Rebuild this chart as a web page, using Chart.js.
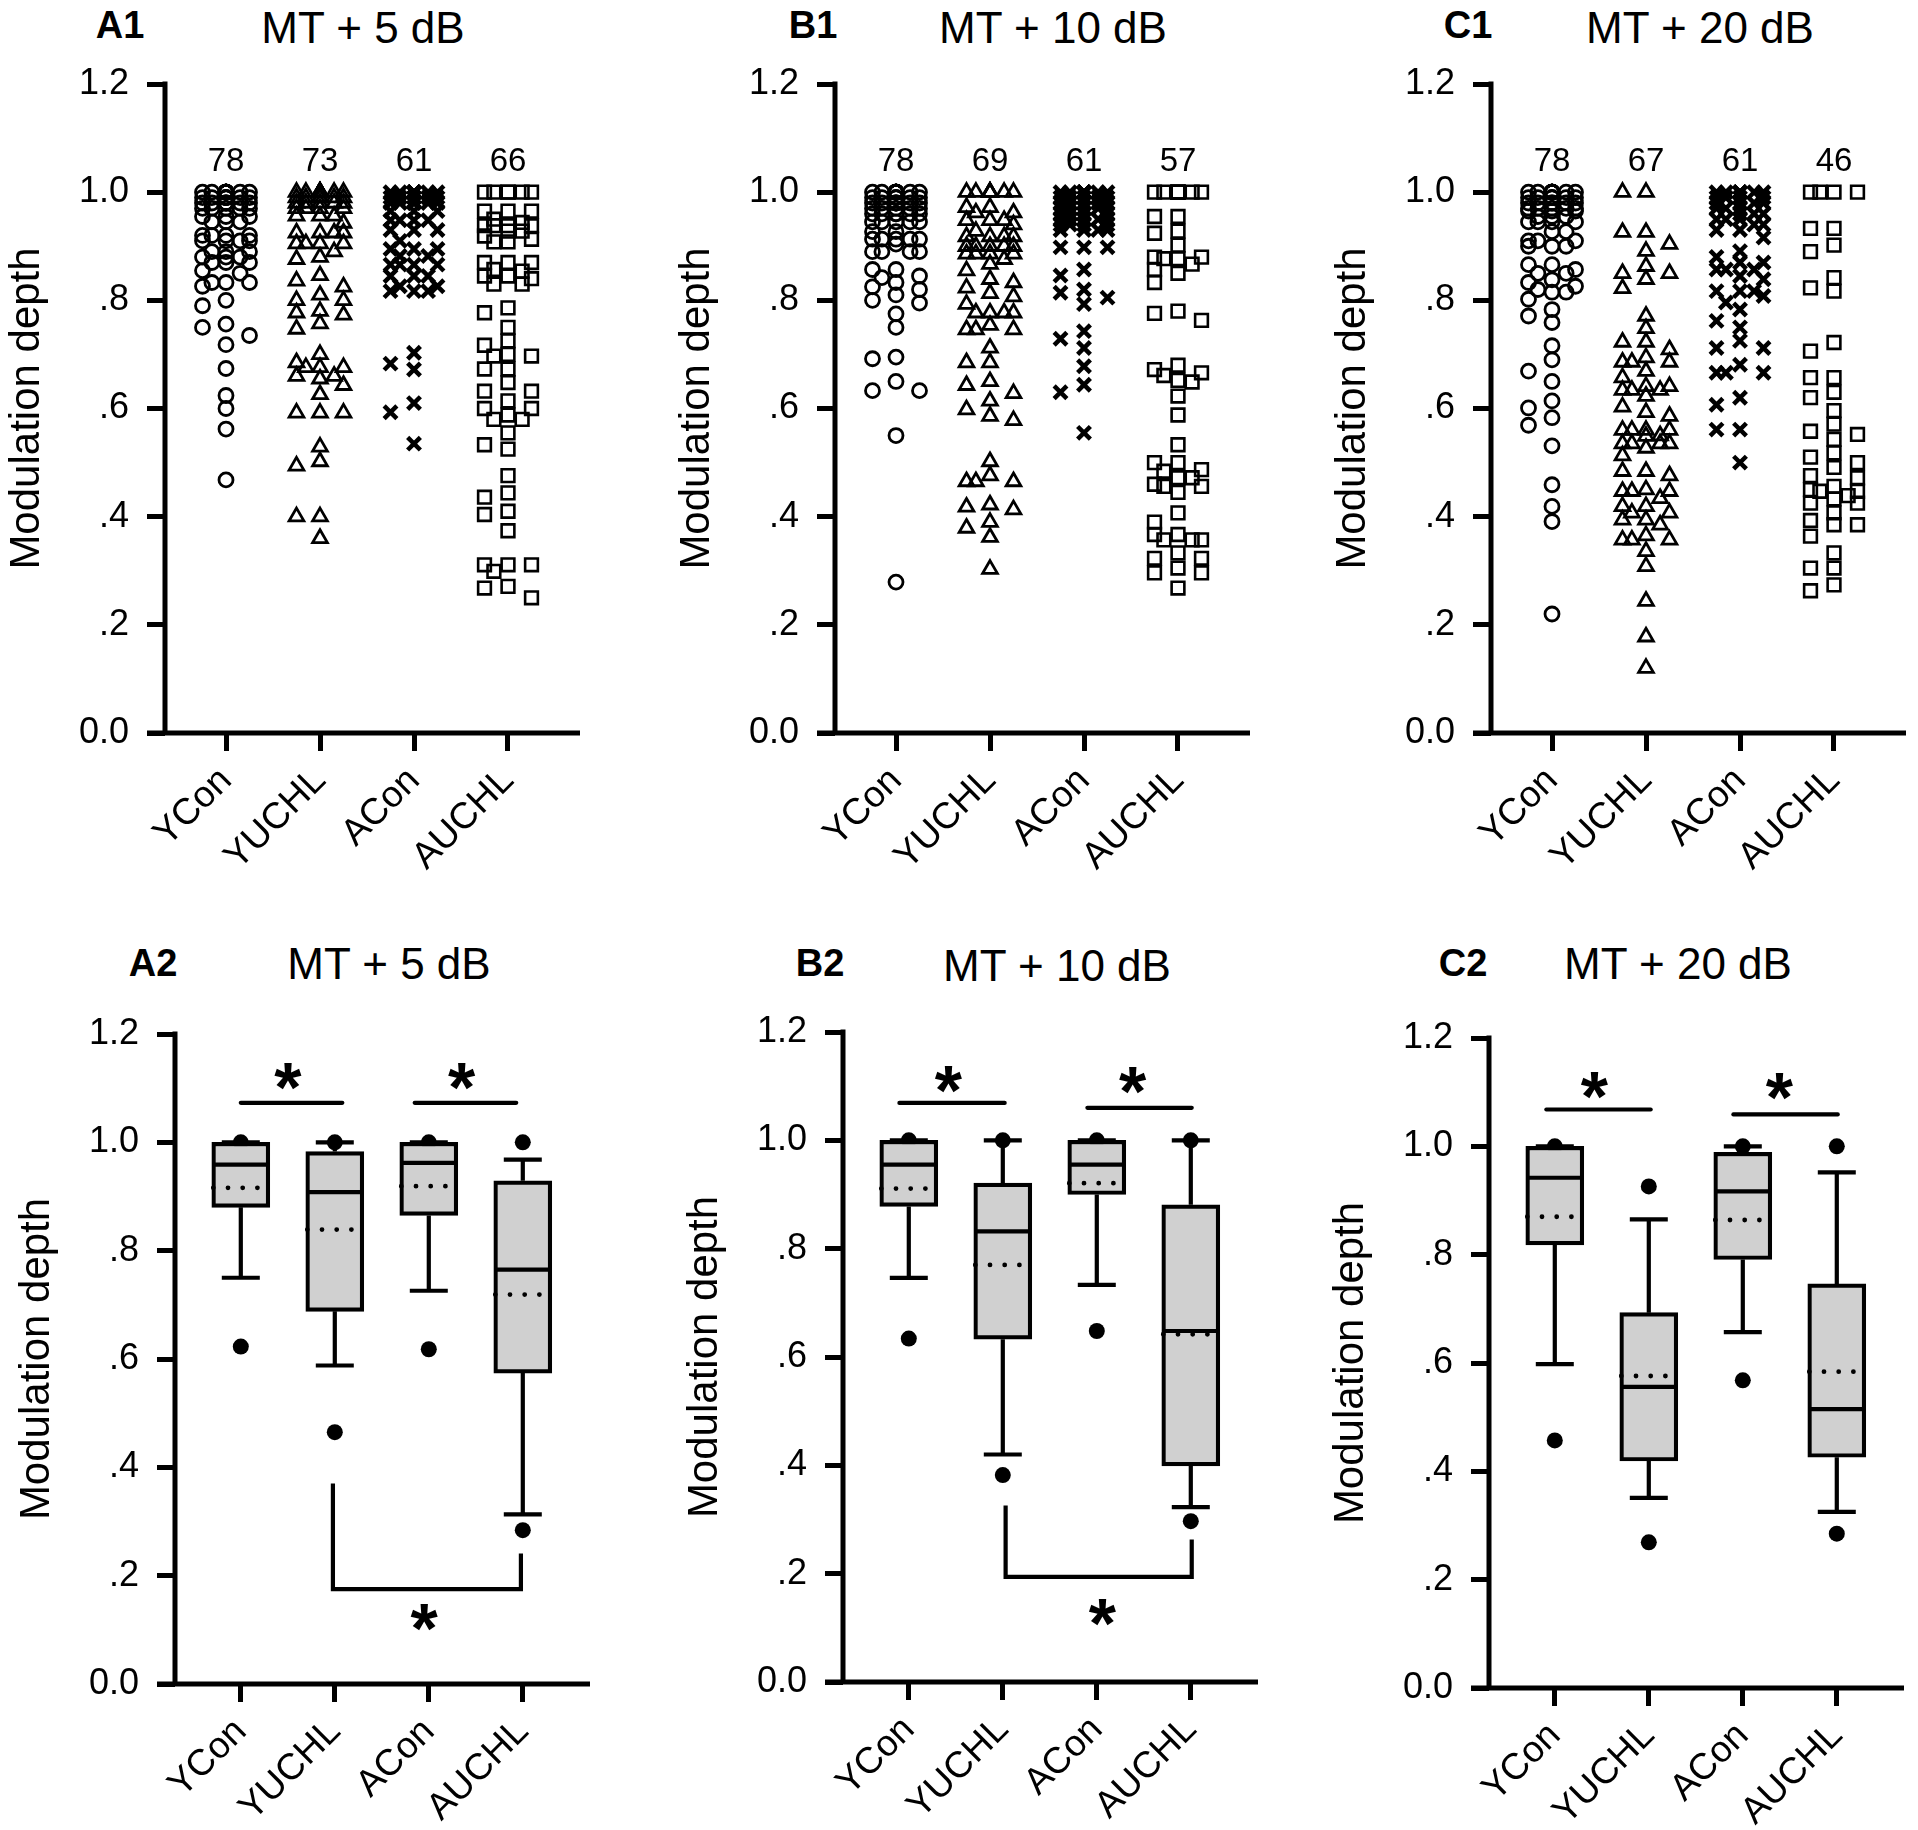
<!DOCTYPE html>
<html>
<head>
<meta charset="utf-8">
<script src="https://cdn.jsdelivr.net/npm/chart.js@4.4.0/dist/chart.umd.min.js"></script>
<style>
    body { margin: 0; background: #fff; width: 1918px; height: 1830px; position: relative; overflow: hidden;
           font-family: 'Liberation Sans', Arial, Helvetica, sans-serif; color: #000; }
    canvas { position: absolute; }
    .lbl { position: absolute; font-weight: bold; font-size: 38px; line-height: 1; transform: translate(-50%, -50%); }
    .ttl { position: absolute; font-size: 44px; line-height: 1; white-space: nowrap; transform: translate(-50%, -50%); }
</style>
</head>
<body>
<div class="lbl" style="left:120px;top:25px">A1</div>
<div class="ttl" style="left:363px;top:28px">MT + 5 dB</div>
<div class="lbl" style="left:813px;top:25px">B1</div>
<div class="ttl" style="left:1053px;top:28px">MT + 10 dB</div>
<div class="lbl" style="left:1468px;top:25px">C1</div>
<div class="ttl" style="left:1700px;top:28px">MT + 20 dB</div>
<div class="lbl" style="left:153px;top:963px">A2</div>
<div class="ttl" style="left:389px;top:964px">MT + 5 dB</div>
<div class="lbl" style="left:820px;top:963px">B2</div>
<div class="ttl" style="left:1057px;top:966px">MT + 10 dB</div>
<div class="lbl" style="left:1463px;top:963px">C2</div>
<div class="ttl" style="left:1678px;top:964px">MT + 20 dB</div>

<canvas id="A1_Chart" width="600" height="900" style="left:0px;top:0px"></canvas>
<canvas id="B1_Chart" width="600" height="900" style="left:670px;top:0px"></canvas>
<canvas id="C1_Chart" width="600" height="900" style="left:1326px;top:0px"></canvas>
<canvas id="A2_Chart" width="600" height="876" style="left:10px;top:950px"></canvas>
<canvas id="B2_Chart" width="600" height="876" style="left:678px;top:948px"></canvas>
<canvas id="C2_Chart" width="600" height="876" style="left:1324px;top:954px"></canvas>

<script>
////////////////////////data////////////////////////////////
var categories = ['YCon', 'YUCHL', 'ACon', 'AUCHL'];
var yTickValues = [0, 0.2, 0.4, 0.6, 0.8, 1.0, 1.2];
var yTickLabels = ['0.0', '.2', '.4', '.6', '.8', '1.0', '1.2'];
var axisTitle = 'Modulation depth';

// A1 - MT + 5 dB, single units
var a1Counts = [78, 73, 61, 66];
var a1YCon = [1, 1, 1, 1, 1, 1, 1, 1, 1, 1, 1, 1, 1, 1, 1, 1, 1, 1,
    .99, .99, .99, .99, .99, .99, .99, .99, .98, .98, .98, .98, .98, .98, .98, .97, .97, .97, .97, .97,
    .955, .955, .955, .945, .945, .945, .92, .92, .92, .92, .91, .91, .91, .91,
    .89, .89, .89, .88, .88, .88, .87, .87, .87,
    .855, .85, .833, .833, .833, .826, .80, .79, .756, .75, .735, .718, .674, .624, .60, .562, .468];
var a1YUCHL = [1, 1, 1, 1, 1, 1, 1, 1, 1, 1, 1, 1, .99, .99, .99, .99, .99, .99, .99, .98, .98, .98, .98, .98, .97, .97, .97, .97,
    .956, .956, .956, .943, .925, .925, .925, .925, .905, .905, .905, .905, .89, .88, .876,
    .846, .836, .825, .81, .80, .80, .78, .777, .773, .757, .747,
    .70, .685, .676, .676, .676, .66, .66, .655, .643, .626,
    .592, .592, .592, .529, .502, .494, .40, .40, .36];
var a1ACon = [1, 1, 1, 1, 1, 1, 1, 1, 1, 1, 1, 1, 1, 1, .99, .99, .99, .99, .99, .99, .99, .98, .98, .98, .98, .98, .98,
    .965, .965, .965, .948, .948, .948, .948, .93, .93, .93, .91, .895, .895, .895, .882, .882,
    .866, .866, .866, .866, .845, .845, .845, .826, .826, .817, .817, .817,
    .703, .683, .672, .61, .593, .535];
var a1AUCHL = [1, 1, 1, 1, 1, 1,
    .965, .965, .965, .95, .944, .938, .938, .938, .938, .928, .928, .919, .913, .908, .908,
    .87, .87, .87, .857, .854, .845, .845, .84, .83, .83,
    .786, .777, .75, .725, .717, .70, .697, .697, .673, .673, .648, .632, .632, .614, .60, .60, .588, .58, .58, .555, .533, .525,
    .476, .444, .436, .41, .404, .374,
    .311, .311, .311, .299, .271, .268, .25];

// B1 - MT + 10 dB, single units
var b1Counts = [78, 69, 61, 57];
var b1YCon = [1, 1, 1, 1, 1, 1, 1, 1, 1, 1, 1, 1, 1, 1, 1, 1, 1,
    .99, .99, .99, .99, .99, .99, .99, .98, .98, .98, .98, .98, .98, .98, .97, .97, .97, .97, .97,
    .96, .96, .96, .96, .96, .96, .945, .945, .945, .945, .945, .927, .927,
    .913, .913, .913, .913, .913, .904, .89, .89, .89, .89,
    .857, .857, .845, .842, .833, .825, .82, .81, .80, .795, .775, .75, .695, .692, .65, .633, .633, .55, .279];
var b1YUCHL = [1, 1, 1, 1, 1, 1, 1, 1, .972, .972, .962, .962, .948, .948, .948, .94, .928,
    .918, .918, .918, .918, .90, .90, .90, .90, .90, .886, .886, .886, .886,
    .876, .867, .855, .839, .833, .823, .813, .807, .793,
    .777, .777, .777, .777, .754, .746, .746, .746, .712, .685, .685,
    .65, .643, .628, .614, .598, .586, .578,
    .502, .476, .465, .465, .465, .422, .418, .413, .39, .379, .362, .303];
var b1ACon = [1, 1, 1, 1, 1, 1, 1, 1, 1, 1, 1, 1, 1, .99, .99, .99, .99, .99, .98, .98, .98, .98, .98,
    .97, .97, .97, .97, .97, .96, .96, .96, .96, .95, .95, .95, .95, .95, .94, .94, .94, .94, .93, .93, .93, .93,
    .898, .898, .898, .857, .846, .82, .814, .805, .793, .743, .729, .712, .678, .644, .63, .555];
var b1AUCHL = [1, 1, 1, 1, 1, 1, 1, 1, .955, .955, .928, .924, .902, .88, .88, .877, .877, .867, .857, .85, .833,
    .78, .776, .763,
    .68, .672, .666, .661, .652, .649, .623, .588,
    .533, .50, .50, .487, .484, .472, .472, .46, .456, .456, .445,
    .407, .39, .367, .367, .357, .357, .357, .333, .323, .323, .305, .296, .296, .268];

// C1 - MT + 20 dB, single units
var c1Counts = [78, 67, 61, 46];
var c1YCon = [1, 1, 1, 1, 1, 1, 1, 1, 1, 1, 1, 1, 1, 1,
    .99, .99, .99, .99, .99, .99, .99, .98, .98, .98, .98, .98, .98, .97, .97, .97, .97, .97,
    .965, .965, .965, .955, .955, .955, .945, .945, .945, .945, .927, .927, .91, .91, .91, .90, .90, .90,
    .866, .866, .857, .85, .85, .838, .833, .826, .82, .815, .815, .802, .783, .771, .759,
    .716, .69, .669, .65, .614, .601, .583, .569, .531, .459, .419, .391, .22];
var c1YUCHL = [1, 1, .926, .926, .904, .891, .863, .85, .85, .839, .822,
    .771, .748, .723, .723, .709, .694, .686, .686, .686, .669, .657, .641, .641, .634, .634, .634, .623,
    .603, .593, .586, .56, .56, .56, .56, .55, .549, .535, .535, .535, .535, .527, .513,
    .484, .484, .476, .45, .447, .447, .447, .434, .419, .419, .407, .407, .394, .394, .385,
    .365, .357, .357, .357, .336, .308, .244, .178, .12];
var c1ACon = [1, 1, 1, 1, 1, 1, 1, 1, 1, 1, .99, .99, .99, .99, .98, .98, .98, .98,
    .97, .97, .97, .96, .96, .96, .95, .95, .95, .94, .94, .93, .93,
    .916, .891, .88, .87, .87, .857, .857, .857, .845, .839, .817, .817, .817, .808, .796, .783, .762, .75,
    .725, .712, .712, .681, .666, .666, .666, .62, .607, .561, .561, .50];
var c1AUCHL = [1, 1, 1, 1, .933, .933, .902, .89, .842, .823, .817,
    .722, .706, .657, .657, .63, .62, .596, .571, .558, .552, .543, .518, .51, .50,
    .491, .476, .472, .456, .45, .447, .447, .439, .433, .425, .425, .407, .393, .385, .385, .364, .333, .305, .305, .274, .263];

// A2 - MT + 5 dB, box plots
var a2Q1 = [0.880, 0.688, 0.865, 0.574];
var a2Median = [0.959, 0.908, 0.962, 0.765];
var a2Q3 = [1.000, 0.983, 1.000, 0.929];
var a2Mean = [0.916, 0.839, 0.919, 0.719];
var a2WhiskLow = [0.750, 0.588, 0.726, 0.313];
var a2WhiskHigh = [1.000, 1.000, 1.000, 0.968];
var a2OutLow = [0.623, 0.465, 0.618, 0.284];
var a2OutHigh = [1.000, 1.000, 1.000, 1.000];
var a2SigLines = [[0.0, 1.08, 1.073], [1.85, 2.93, 1.073]];
var a2Bracket = [[0.98, 0.370], [0.98, 0.175], [2.98, 0.175], [2.98, 0.241]];
var a2Stars = [[0.5, 1.122], [2.35, 1.122], [1.95, 0.123]];

// B2 - MT + 10 dB, box plots
var b2Q1 = [0.878, 0.633, 0.900, 0.399];
var b2Median = [0.955, 0.832, 0.955, 0.648];
var b2Q3 = [1.000, 0.921, 1.000, 0.881];
var b2Mean = [0.911, 0.770, 0.921, 0.642];
var b2WhiskLow = [0.746, 0.420, 0.733, 0.323];
var b2WhiskHigh = [1.000, 1.000, 1.000, 1.000];
var b2OutLow = [0.634, 0.382, 0.648, 0.297];
var b2OutHigh = [1.000, 1.000, 1.000, 1.000];
var b2SigLines = [[-0.1, 1.02, 1.069], [1.9, 3.01, 1.060]];
var b2Bracket = [[1.03, 0.326], [1.03, 0.194], [3.01, 0.194], [3.01, 0.263]];
var b2Stars = [[0.42, 1.112], [2.38, 1.111], [2.06, 0.128]];

// C2 - MT + 20 dB, box plots
var c2Q1 = [0.818, 0.419, 0.791, 0.426];
var c2Median = [0.942, 0.556, 0.917, 0.515];
var c2Q3 = [1.000, 0.693, 0.989, 0.746];
var c2Mean = [0.870, 0.576, 0.864, 0.584];
var c2WhiskLow = [0.598, 0.351, 0.657, 0.325];
var c2WhiskHigh = [1.000, 0.865, 1.000, 0.952];
var c2OutLow = [0.457, 0.269, 0.568, 0.285];
var c2OutHigh = [1.000, 0.926, 1.000, 1.000];
var c2SigLines = [[-0.09, 1.02, 1.068], [1.9, 3.01, 1.059]];
var c2Bracket = [];
var c2Stars = [[0.42, 1.112], [2.39, 1.110]];

////////////////////////styles////////////////////////////////
var FONT = "'Liberation Sans', Arial, Helvetica, sans-serif";
var markerStyle = ['circle', 'triangle', 'crossRot', 'rect'];
var markerRadius = [7, 8.5, 9, 9];
var markerWidth = [2.8, 2.8, 4.5, 2.6];
var countLevel = 1.061;
var LINE = 5;

// spread the points of one group sideways so that markers do not sit on each other
function swarm(values, cat) {
    var slots = [0, -0.25, 0.25, -0.15, 0.15];
    var placed = [];
    var sorted = values.slice().sort(function (a, b) { return b - a; });
    return sorted.map(function (v) {
        var best = slots[0], bestD = -1;
        for (var k = 0; k < slots.length; k++) {
            var s = slots[k], d = Infinity;
            placed.forEach(function (p) {
                d = Math.min(d, Math.hypot((p.s - s) * 94, (p.v - v) * 540));
            });
            if (d >= 12) { best = s; break; }
            if (d > bestD) { bestD = d; best = s; }
        }
        placed.push({ s: best, v: v });
        return { x: cat + best, y: v };
    });
}

var axisLines = {
    id: 'axisLines',
    afterDraw: function (chart) {
        var ctx = chart.ctx, a = chart.chartArea;
        ctx.save();
        ctx.strokeStyle = '#000';
        ctx.lineWidth = LINE;
        ctx.beginPath();
        ctx.moveTo(a.left, a.top - LINE / 2);
        ctx.lineTo(a.left, a.bottom);
        ctx.moveTo(a.left - 18, a.bottom);
        ctx.lineTo(a.right, a.bottom);
        ctx.stroke();
        ctx.restore();
    }
};

function drawStar(ctx, px, py) {
    ctx.font = 'bold 70px ' + FONT;
    ctx.textAlign = 'center';
    ctx.textBaseline = 'alphabetic';
    var m = ctx.measureText('*');
    ctx.fillText('*', px, py + (m.actualBoundingBoxAscent - m.actualBoundingBoxDescent) / 2);
}

function countLabels(counts) {
    return {
        id: 'countLabels',
        afterDatasetsDraw: function (chart) {
            var ctx = chart.ctx, x = chart.scales.x, y = chart.scales.y;
            ctx.save();
            ctx.font = '33px ' + FONT;
            ctx.fillStyle = '#000';
            ctx.textAlign = 'center';
            ctx.textBaseline = 'alphabetic';
            counts.forEach(function (n, i) {
                ctx.fillText(String(n), x.getPixelForValue(i), y.getPixelForValue(countLevel) + 11.8);
            });
            ctx.restore();
        }
    };
}

function boxDecor(p) {
    return {
        id: 'boxDecor',
        afterDatasetsDraw: function (chart) {
            var ctx = chart.ctx, x = chart.scales.x, y = chart.scales.y;
            var half = 57 / 2, cap = 38 / 2;
            ctx.save();
            ctx.strokeStyle = '#000';
            ctx.fillStyle = '#000';
            categories.forEach(function (c, i) {
                var cx = x.getPixelForValue(i);
                var yq1 = y.getPixelForValue(p.q1[i]), yq3 = y.getPixelForValue(p.q3[i]);
                var ylo = y.getPixelForValue(p.whiskLow[i]), yhi = y.getPixelForValue(p.whiskHigh[i]);
                var ymed = y.getPixelForValue(p.median[i]), ymean = y.getPixelForValue(p.mean[i]);
                ctx.setLineDash([]);
                ctx.lineCap = 'butt';
                ctx.lineWidth = 4.2;
                ctx.beginPath();
                ctx.moveTo(cx, yq3); ctx.lineTo(cx, yhi);
                ctx.moveTo(cx - cap, yhi); ctx.lineTo(cx + cap, yhi);
                ctx.moveTo(cx, yq1); ctx.lineTo(cx, ylo);
                ctx.moveTo(cx - cap, ylo); ctx.lineTo(cx + cap, ylo);
                ctx.moveTo(cx - half, ymed); ctx.lineTo(cx + half, ymed);
                ctx.stroke();
                // mean as dotted line
                ctx.lineWidth = 4.8;
                ctx.lineCap = 'round';
                ctx.setLineDash([0, 14.7]);
                ctx.beginPath();
                ctx.moveTo(cx - half + 1, ymean); ctx.lineTo(cx + half - 4, ymean);
                ctx.stroke();
            });
            // significance bars
            ctx.setLineDash([]);
            ctx.lineCap = 'round';
            ctx.lineWidth = 4.2;
            p.sigLines.forEach(function (s) {
                ctx.beginPath();
                ctx.moveTo(x.getPixelForValue(s[0]), y.getPixelForValue(s[2]));
                ctx.lineTo(x.getPixelForValue(s[1]), y.getPixelForValue(s[2]));
                ctx.stroke();
            });
            if (p.bracket.length) {
                ctx.lineCap = 'butt';
                ctx.lineJoin = 'miter';
                ctx.beginPath();
                p.bracket.forEach(function (pt, k) {
                    var px = x.getPixelForValue(pt[0]), py = y.getPixelForValue(pt[1]);
                    if (k === 0) ctx.moveTo(px, py); else ctx.lineTo(px, py);
                });
                ctx.stroke();
            }
            p.stars.forEach(function (s) {
                drawStar(ctx, x.getPixelForValue(s[0]), y.getPixelForValue(s[1]));
            });
            ctx.restore();
        }
    };
}

function baseOptions(xMin, xMax, xHeight) {
    var tickGrid = {
        display: true,
        drawOnChartArea: false,
        drawTicks: true,
        tickLength: 18,
        tickWidth: LINE,
        tickColor: '#000',
        offset: false
    };
    return {
        responsive: false,
        animation: false,
        events: [],
        layout: {
            padding: { top: 84, right: 20, left: 0, bottom: 0 }
        },
        plugins: {
            legend: { display: false },
            tooltip: { enabled: false }
        },
        scales: {
            x: {
                type: 'linear',
                min: xMin,
                max: xMax,
                offset: false,
                afterBuildTicks: function (s) { s.ticks = categories.map(function (c, i) { return { value: i }; }); },
                afterFit: function (s) { s.height = xHeight; },
                grid: tickGrid,
                border: { display: false },
                ticks: {
                    autoSkip: false,
                    minRotation: 45,
                    maxRotation: 45,
                    padding: 8,
                    color: '#000',
                    font: { family: FONT, size: 37 },
                    callback: function (v, i) { return categories[i]; }
                }
            },
            y: {
                type: 'linear',
                min: 0,
                max: 1.2,
                afterBuildTicks: function (s) { s.ticks = yTickValues.map(function (v) { return { value: v }; }); },
                afterFit: function (s) { s.width = 165; },
                grid: tickGrid,
                border: { display: false },
                ticks: {
                    padding: 18,
                    color: '#000',
                    font: { family: FONT, size: 36 },
                    callback: function (v, i) { return yTickLabels[i]; }
                },
                title: {
                    display: true,
                    text: axisTitle,
                    color: '#000',
                    font: { family: FONT, size: 42 },
                    padding: { top: 2, bottom: 0 }
                }
            }
        }
    };
}

function createStripChart(id, groups, counts) {
    var datasets = groups.map(function (vals, i) {
        return {
            data: swarm(vals, i),
            pointStyle: markerStyle[i],
            pointRadius: markerRadius[i],
            pointBorderWidth: markerWidth[i],
            pointBorderColor: '#000',
            pointBackgroundColor: 'rgba(0,0,0,0)'
        };
    });
    return new Chart(document.getElementById(id), {
        type: 'scatter',
        data: { datasets: datasets },
        options: baseOptions(-0.649, 3.766, 167),
        plugins: [axisLines, countLabels(counts)]
    });
}

function createBoxChart(id, p) {
    var boxes = categories.map(function (c, i) { return { x: i, y: [p.q1[i], p.q3[i]] }; });
    var outliers = [];
    categories.forEach(function (c, i) {
        outliers.push({ x: i, y: p.outLow[i] });
        outliers.push({ x: i, y: p.outHigh[i] });
    });
    return new Chart(document.getElementById(id), {
        type: 'bar',
        data: {
            datasets: [
                {
                    type: 'bar',
                    data: boxes,
                    backgroundColor: '#d0d0d0',
                    borderColor: '#000',
                    borderWidth: 4.2,
                    borderSkipped: false,
                    barThickness: 58,
                    order: 1
                },
                {
                    type: 'scatter',
                    data: outliers,
                    pointRadius: 8,
                    pointBorderWidth: 0,
                    pointBackgroundColor: '#000',
                    order: 2
                }
            ]
        },
        options: baseOptions(-0.70, 3.715, 142),
        plugins: [axisLines, boxDecor(p)]
    });
}

document.addEventListener('DOMContentLoaded', function () {
    createStripChart('A1_Chart', [a1YCon, a1YUCHL, a1ACon, a1AUCHL], a1Counts);
    createStripChart('B1_Chart', [b1YCon, b1YUCHL, b1ACon, b1AUCHL], b1Counts);
    createStripChart('C1_Chart', [c1YCon, c1YUCHL, c1ACon, c1AUCHL], c1Counts);

    createBoxChart('A2_Chart', {
        q1: a2Q1, median: a2Median, q3: a2Q3, mean: a2Mean,
        whiskLow: a2WhiskLow, whiskHigh: a2WhiskHigh, outLow: a2OutLow, outHigh: a2OutHigh,
        sigLines: a2SigLines, bracket: a2Bracket, stars: a2Stars
    });
    createBoxChart('B2_Chart', {
        q1: b2Q1, median: b2Median, q3: b2Q3, mean: b2Mean,
        whiskLow: b2WhiskLow, whiskHigh: b2WhiskHigh, outLow: b2OutLow, outHigh: b2OutHigh,
        sigLines: b2SigLines, bracket: b2Bracket, stars: b2Stars
    });
    createBoxChart('C2_Chart', {
        q1: c2Q1, median: c2Median, q3: c2Q3, mean: c2Mean,
        whiskLow: c2WhiskLow, whiskHigh: c2WhiskHigh, outLow: c2OutLow, outHigh: c2OutHigh,
        sigLines: c2SigLines, bracket: c2Bracket, stars: c2Stars
    });
});
</script>
</body>
</html>
